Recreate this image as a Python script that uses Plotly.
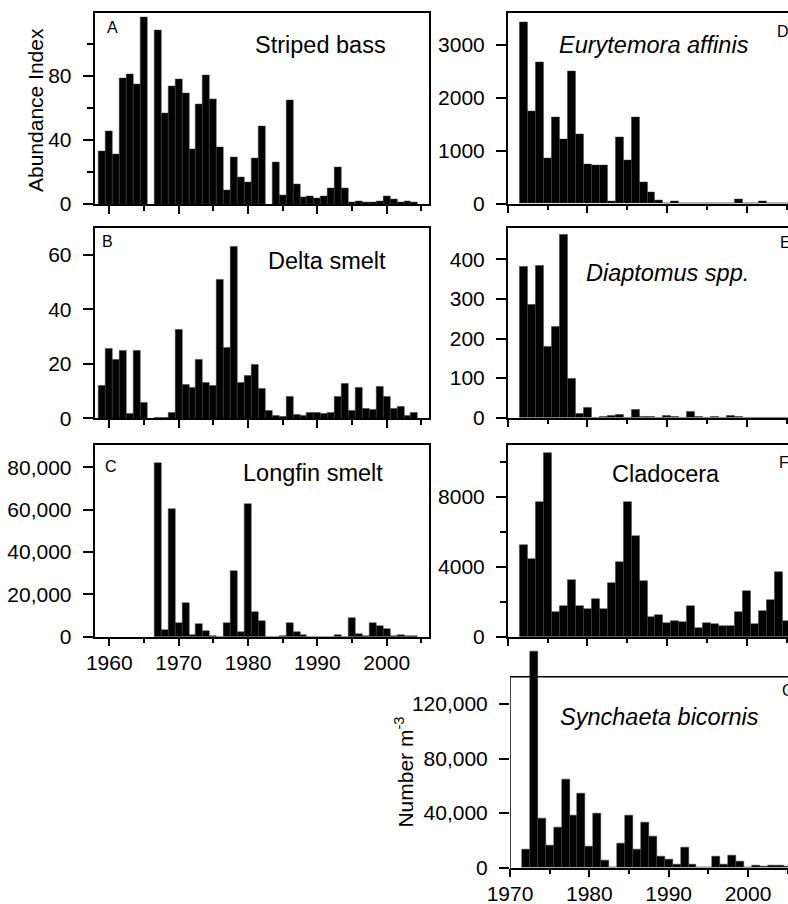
import plotly.graph_objects as go

# ---------------- data ----------------
years_left = list(range(1959, 2005))
striped_bass = [33.1, 45.2, 31.3, 78.5, 81.3, 75.0, 116.7, None, 108.3, 56.7,
                73.3, 78.1, 69.2, 34.2, 62.3, 80.2, 65.2, 35.4, 8.3, 29.2,
                16.5, 13.3, 28.5, 48.3, None, 25.8, 5.6, 64.6, 12.3, 4.0,
                4.6, 3.5, 4.6, 9.8, 22.9, 9.8, 0.8, 1.7, 1.2, 1.2,
                1.7, 4.6, 2.9, 1.0, 2.0, 0.8]
delta_smelt = [12.0, 25.6, 21.4, 24.9, 1.6, 24.7, 5.8, None, 0.3, 0.3,
               2.2, 32.7, 12.3, 11.1, 21.4, 13.0, 12.1, 50.9, 25.9, 63.0,
               13.2, 15.7, 19.8, 10.7, 2.7, 1.0, 0.6, 7.8, 1.2, 1.0,
               1.9, 1.9, 1.6, 2.2, 8.0, 12.7, 2.8, 11.1, 3.7, 3.1,
               11.7, 7.8, 3.5, 4.1, 1.0, 2.2]
longfin_smelt = [None, None, None, None, None, None, None, None,
                 81900, 3150, 60150, 6300, 15750, 800, 5800, 2700, 500, 0,
                 6600, 31000, 2000, 62700, 11800, 7400, 0, 0, 500, 6300,
                 2000, 800, 0, 0, 0, 0, 600, 0, 8700, 1300,
                 500, 6600, 5000, 3500, 300, 700, 450, 200]

years_right = list(range(1972, 2006))
eurytemora = [3415, 1749, 2661, 855, 1629, 1214, 2503, 1308, 748, 717,
              717, 38, 1245, 811, 1629, 396, 207, 57, 10, 44,
              15, 12, 10, 15, 12, 10, 15, 82, 15, 10,
              38, 12, 10, 5]
diaptomus = [382, 285, 385, 179, 230, 462, 98, 9, 25, 0,
             3, 5, 8, 1, 21, 3, 2, 1, 4, 3,
             0, 14, 3, 1, 2, 1, 4, 2, 1, 0,
             1, 0, 0, 0]
cladocera = [5240, 4440, 7715, 10515, 1410, 1750, 3240, 1770, 1580, 2150,
             1560, 3090, 4290, 7700, 5730, 3160, 1140, 1240, 760, 910,
             820, 1770, 510, 760, 700, 610, 610, 1430, 2630, 740,
             1490, 2110, 3680, 910]
synchaeta = [13500, 158800, 36300, 16700, 29400, 64400, 38000, 54200, 15400, 39900,
             5600, 0, 17900, 38700, 13500, 33100, 23300, 8100, 6100, 2700,
             14700, 2500, 0, 300, 8100, 2700, 9300, 4400, 300, 1500,
             700, 1500, 2000, 700]

left_major = [1960, 1970, 1980, 1990, 2000]
left_minor = [1965, 1975, 1985, 1995, 2005]
right_major = [1970, 1980, 1990, 2000]
right_minor = [1975, 1985, 1995, 2005]

# ---------------- layout helpers ----------------
W, H = 788, 904
FONT = "Liberation Sans, Arial, sans-serif"
TICK_SIZE = 21


def fx(p):
    return p / W


def fy(p):
    return 1 - p / H


panels = [
    ("A", years_left, striped_bass, (94.5, 429.3), (13.3, 204.0), [1957.87, 2006.14], [0, 119.2],
     [0, 40, 80], [20, 60, 100], "d", False, "L"),
    ("B", years_left, delta_smelt, (94.5, 429.3), (227.7, 418.3), [1957.87, 2006.14], [0, 70],
     [0, 20, 40, 60], [], "d", False, "L"),
    ("C", years_left, longfin_smelt, (94.5, 429.3), (445.0, 636.7), [1957.87, 2006.14], [0, 90570],
     [0, 20000, 40000, 60000, 80000], [], ",d", True, "L"),
    ("D", years_right, eurytemora, (507.7, 788), (13.3, 203.7), [1970, 2005.16], [0, 3592],
     [0, 1000, 2000, 3000], [], "d", False, "R"),
    ("E", years_right, diaptomus, (507.7, 788), (227.7, 417.7), [1970, 2005.16], [0, 480],
     [0, 100, 200, 300, 400], [], "d", False, "R"),
    ("F", years_right, cladocera, (507.7, 788), (445.0, 636.7), [1970, 2005.16], [0, 10954],
     [0, 4000, 8000], [2000, 6000, 10000], "d", False, "R"),
    ("G", years_right, synchaeta, (510.0, 788), (649.4, 867.7), [1970, 2005.04], [0, 160000],
     [0, 40000, 80000, 120000], [], ",d", True, "G"),
]

fig = go.Figure()
layout = dict(
    width=W, height=H, autosize=False,
    margin=dict(l=0, r=0, t=0, b=0, pad=0),
    paper_bgcolor="white", plot_bgcolor="white",
    showlegend=False, bargap=0, hovermode=False,
    font=dict(family=FONT, size=TICK_SIZE, color="black"),
)

for i, (name, xs, ys, xd, yd, xr, yr, ymaj, ymin, yfmt, xlab, side) in enumerate(panels):
    n = "" if i == 0 else str(i + 1)
    fig.add_trace(go.Bar(
        x=xs, y=ys, xaxis="x" + n, yaxis="y" + n,
        marker=dict(color="black", line=dict(color="#3c3c3c", width=0.5)),
    ))
    xmaj = left_major if side == "L" else right_major
    xmin = left_minor if side == "L" else right_minor
    layout["xaxis" + n] = dict(
        domain=[fx(xd[0]), fx(xd[1])], range=xr, anchor="y" + n,
        automargin=False,
        showgrid=False, zeroline=False,
        showline=True, linecolor="black", linewidth=1.5,
        mirror=(side != "G"),
        ticks="outside", ticklen=8, tickwidth=1.5, tickcolor="black",
        tickvals=xmaj, showticklabels=xlab, ticklabelstandoff=-2,
        tickfont=dict(family=FONT, size=TICK_SIZE, color="black"),
        minor=dict(tickvals=xmin, ticks="outside", ticklen=5, tickwidth=1.5, tickcolor="black"),
        fixedrange=True,
    )
    yax = dict(
        domain=[fy(yd[1]), fy(yd[0])], range=yr, anchor="x" + n,
        automargin=False,
        showgrid=False, zeroline=False,
        showline=(side != "G"), linecolor="black", linewidth=1.5,
        mirror=(side == "L"),
        ticks="outside", ticklen=10, tickwidth=1.5, tickcolor="black",
        tickvals=ymaj, tickformat=yfmt, ticklabelstandoff=7,
        tickfont=dict(family=FONT, size=TICK_SIZE, color="black"),
        fixedrange=True,
    )
    if ymin:
        yax["minor"] = dict(tickvals=ymin, ticks="outside", ticklen=6, tickwidth=1.5, tickcolor="black")
    layout["yaxis" + n] = yax

fig.update_layout(**layout)

# G frame (the 1973 bar rises above the frame)
fig.add_shape(type="line", xref="x7", yref="y7", x0=1970, x1=2005.04, y0=140000, y1=140000,
              line=dict(color="black", width=1.5))
fig.add_shape(type="line", xref="x7", yref="y7", x0=1970, x1=1970, y0=0, y1=140000,
              line=dict(color="black", width=1.5))


def ann(text, xp, yp, size, xanchor="left", italic=False, angle=0):
    fig.add_annotation(
        text=text, x=fx(xp), y=fy(yp), xref="paper", yref="paper",
        xanchor=xanchor, yanchor="middle", showarrow=False, textangle=angle,
        font=dict(family=FONT, size=size, color="black",
                  style="italic" if italic else "normal"),
    )


# panel titles
ann("Striped bass", 388, 44.7, 23.5, xanchor="right")
ann("Delta smelt", 388, 260.7, 23.5, xanchor="right")
ann("Longfin smelt", 385, 473, 23.5, xanchor="right")
ann("Eurytemora affinis", 654, 45, 23.5, xanchor="center", italic=True)
ann("Diaptomus spp.", 667.5, 273.3, 23.5, xanchor="center", italic=True)
ann("Cladocera", 666, 474, 23.5, xanchor="center")
ann("Synchaeta bicornis", 659, 716.7, 23.5, xanchor="center", italic=True)

# panel letters
ann("A", 105, 27.5, 16)
ann("B", 100, 241.5, 16)
ann("C", 103, 466, 16)
ann("D", 775, 31, 16)
ann("E", 778, 242.5, 16)
ann("F", 776.5, 462.5, 16)
ann("G", 780, 690, 16)

# axis titles
ann("Abundance Index", 35, 110, 21, xanchor="center", angle=-90)
ann("Number m<sup>-3</sup>", 404, 772.6, 21, xanchor="center", angle=-90)

fig.write_html("out.html",
               config={"displayModeBar": False},
               post_script="document.body.style.margin='0px';document.body.style.overflow='hidden';")
